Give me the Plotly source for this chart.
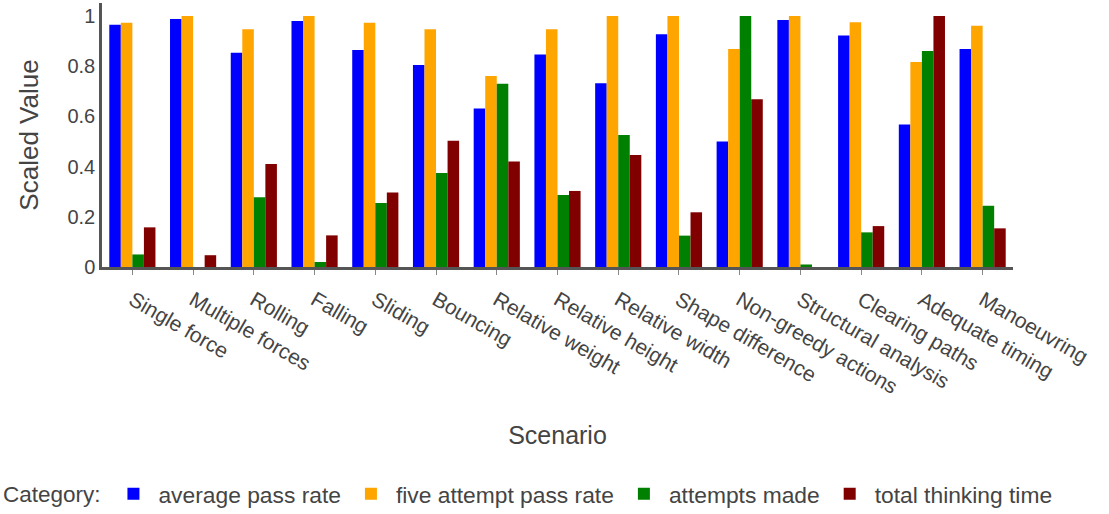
import plotly.graph_objects as go

scenarios = ["Single force", "Multiple forces", "Rolling", "Falling", "Sliding", "Bouncing",
             "Relative weight", "Relative height", "Relative width", "Shape difference",
             "Non-greedy actions", "Structural analysis", "Clearing paths", "Adequate timing",
             "Manoeuvring"]

average_pass_rate = [0.965, 0.988, 0.854, 0.98, 0.865, 0.805, 0.632, 0.847, 0.732, 0.927,
                     0.50, 0.984, 0.922, 0.568, 0.869]
five_attempt_pass_rate = [0.973, 1.0, 0.947, 1.0, 0.973, 0.947, 0.761, 0.947, 1.0, 1.0,
                          0.869, 1.0, 0.975, 0.817, 0.961]
attempts_made = [0.05, 0.0, 0.278, 0.02, 0.255, 0.375, 0.73, 0.287, 0.526, 0.125,
                 1.0, 0.01, 0.138, 0.861, 0.244]
total_thinking_time = [0.158, 0.047, 0.41, 0.126, 0.297, 0.503, 0.42, 0.303, 0.446, 0.218,
                       0.668, 0.0, 0.163, 1.0, 0.154]

series_names = ["average pass rate", "five attempt pass rate", "attempts made", "total thinking time"]
series_values = [average_pass_rate, five_attempt_pass_rate, attempts_made, total_thinking_time]
colors = ["#0000ff", "#ffa500", "#008000", "#800000"]

FONT = "Liberation Sans, Arial, sans-serif"
TXT = "#444444"

fig = go.Figure()
for name, vals, c in zip(series_names, series_values, colors):
    fig.add_trace(go.Bar(x=scenarios, y=vals, name=name, marker=dict(color=c, line=dict(width=0))))

fig.update_layout(
    width=1109, height=514,
    barmode="group", bargap=0.24, bargroupgap=0,
    plot_bgcolor="white", paper_bgcolor="white",
    margin=dict(l=102, r=96, t=3, b=247, autoexpand=False),
    font=dict(family=FONT, color=TXT),
    legend=dict(orientation="h", x=-0.111, xanchor="left", y=-0.86, yanchor="middle",
                title=dict(text="Category:", font=dict(size=22.5, color=TXT)),
                font=dict(size=22.8, color=TXT), itemwidth=40),
    showlegend=True,
)
fig.update_xaxes(
    showline=True, linecolor="#555555", linewidth=2.5, ticks="outside", ticklen=5,
    tickcolor="#888888", tickwidth=1, tickangle=30, tickfont=dict(size=21, color=TXT),
    ticklabelstandoff=5,
    title=dict(text="Scenario", font=dict(size=25, color=TXT), standoff=30),
    showgrid=False, automargin=False,
)
fig.update_yaxes(
    range=[0, 1.052], dtick=0.2, showline=True, linecolor="#555555", linewidth=2.5,
    ticks="", showgrid=False, zeroline=False, tickfont=dict(size=20, color=TXT),
    ticklabeloverflow="allow",
    title=dict(text="Scaled Value", font=dict(size=26, color=TXT), standoff=22),
    automargin=False,
)

fig.write_html("out.html", config={"displayModeBar": False},
               post_script="document.body.style.margin='0';")
